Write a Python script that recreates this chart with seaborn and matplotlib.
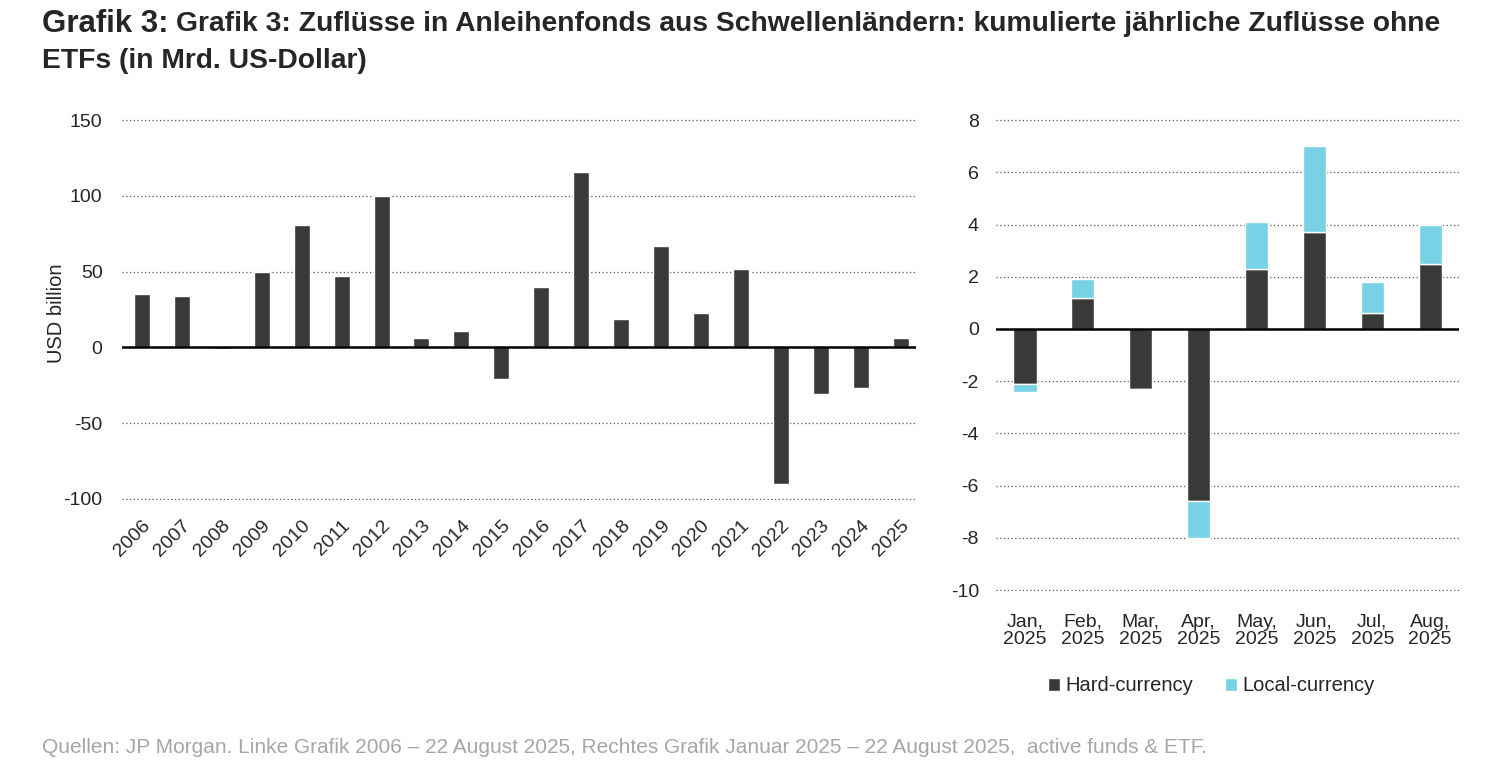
import numpy as np
import pandas as pd
import matplotlib
matplotlib.use('Agg')
import matplotlib.pyplot as plt
import seaborn as sns

# Data
years = [str(y) for y in range(2006, 2026)]
annual_flows = [35, 34, -1, 50, 81, 47, 100, 6, 11, -21, 40, 116, 19, 67, 23, 52, -90, -31, -27, 6]

months = ['Jan,\n2025', 'Feb,\n2025', 'Mar,\n2025', 'Apr,\n2025',
          'May,\n2025', 'Jun,\n2025', 'Jul,\n2025', 'Aug,\n2025']
hard_ccy = [-2.1, 1.2, -2.3, -6.6, 2.3, 3.7, 0.6, 2.5]
local_ccy = [-0.3, 0.7, 0.0, -1.4, 1.8, 3.3, 1.2, 1.5]

DARK = '#383a37'
LIGHT = '#77d2e5'

sns.set_style('white')
plt.rcParams['font.family'] = ['Liberation Sans', 'DejaVu Sans']
plt.rcParams['axes.unicode_minus'] = False

fig = plt.figure(figsize=(15, 7.62), dpi=100)
ax1 = fig.add_axes([0.0813, 0.3432, 0.5293, 0.5013])
ax2 = fig.add_axes([0.6637, 0.224, 0.309, 0.620])

# Left chart: annual flows
left_df = pd.DataFrame({'year': years, 'flow': annual_flows})
sns.barplot(data=left_df, x='year', y='flow', color=DARK, width=0.4,
            saturation=1, ax=ax1, zorder=3)
ax1.set_ylim(-101, 151)
ax1.set_yticks([-100, -50, 0, 50, 100, 150])
ax1.set_xlim(-0.5, 19.38)
ax1.set_xlabel('')
ax1.set_ylabel('USD billion', fontsize=14.5)
ax1.yaxis.set_label_coords(-0.071, 0.49)
ax1.tick_params(axis='x', labelrotation=45, labelsize=14, length=0, pad=12)
ax1.tick_params(axis='y', labelsize=14, length=0, pad=14)
for lab in ax1.get_xticklabels():
    lab.set_ha('right')
    lab.set_rotation_mode('anchor')

# Right chart: monthly, stacked
right_df = pd.DataFrame({'month': months, 'hard': hard_ccy, 'local': local_ccy})
sns.barplot(data=right_df, x='month', y='hard', color=DARK, width=0.4,
            saturation=1, ax=ax2, zorder=3, label='Hard-currency')
sns.barplot(data=right_df, x='month', y='local', color=LIGHT, width=0.4,
            saturation=1, ax=ax2, zorder=3, bottom=right_df['hard'],
            label='Local-currency')
ax2.set_ylim(-10.05, 8.05)
ax2.set_yticks(range(-10, 9, 2))
ax2.set_xlim(-0.51, 7.5)
ax2.set_xlabel('')
ax2.set_ylabel('')
ax2.tick_params(axis='x', labelsize=14, length=0, pad=16)
ax2.tick_params(axis='y', labelsize=14, length=0, pad=12)
for lab in ax2.get_xticklabels():
    lab.set_linespacing(1.05)

for ax in (ax1, ax2):
    for s in ax.spines.values():
        s.set_visible(False)
    ax.yaxis.grid(True, linestyle=(0, (1, 2)), color='#555555', linewidth=0.9, zorder=0)
    ax.xaxis.grid(False)
    ax.axhline(0, color='black', linewidth=1.8, zorder=4)

ax2.legend(loc='center', bbox_to_anchor=(0.465, -0.2), ncol=2, frameon=False,
           fontsize=14.5, handlelength=0.6, handleheight=0.6, handletextpad=0.25,
           columnspacing=1.6)

# Title
t1 = fig.text(0.028, 0.988, 'Grafik 3:', fontsize=22.5, fontweight='bold', va='top')
fig.canvas.draw()
bb = t1.get_window_extent(fig.canvas.get_renderer())
fig.text(bb.x1 / fig.bbox.width + 0.005, 0.985,
         'Grafik 3: Zuflüsse in Anleihenfonds aus Schwellenländern: kumulierte jährliche Zuflüsse ohne',
         fontsize=20.3, fontweight='bold', va='top')
fig.text(0.028, 0.937, 'ETFs (in Mrd. US-Dollar)', fontsize=20.3, fontweight='bold', va='top')

fig.text(0.028, 0.012,
         'Quellen: JP Morgan. Linke Grafik 2006 – 22 August 2025, Rechtes Grafik Januar 2025 – 22 August 2025,  active funds & ETF.',
         fontsize=15, color='#a6a6a6')

fig.savefig('out.png', dpi=100)
